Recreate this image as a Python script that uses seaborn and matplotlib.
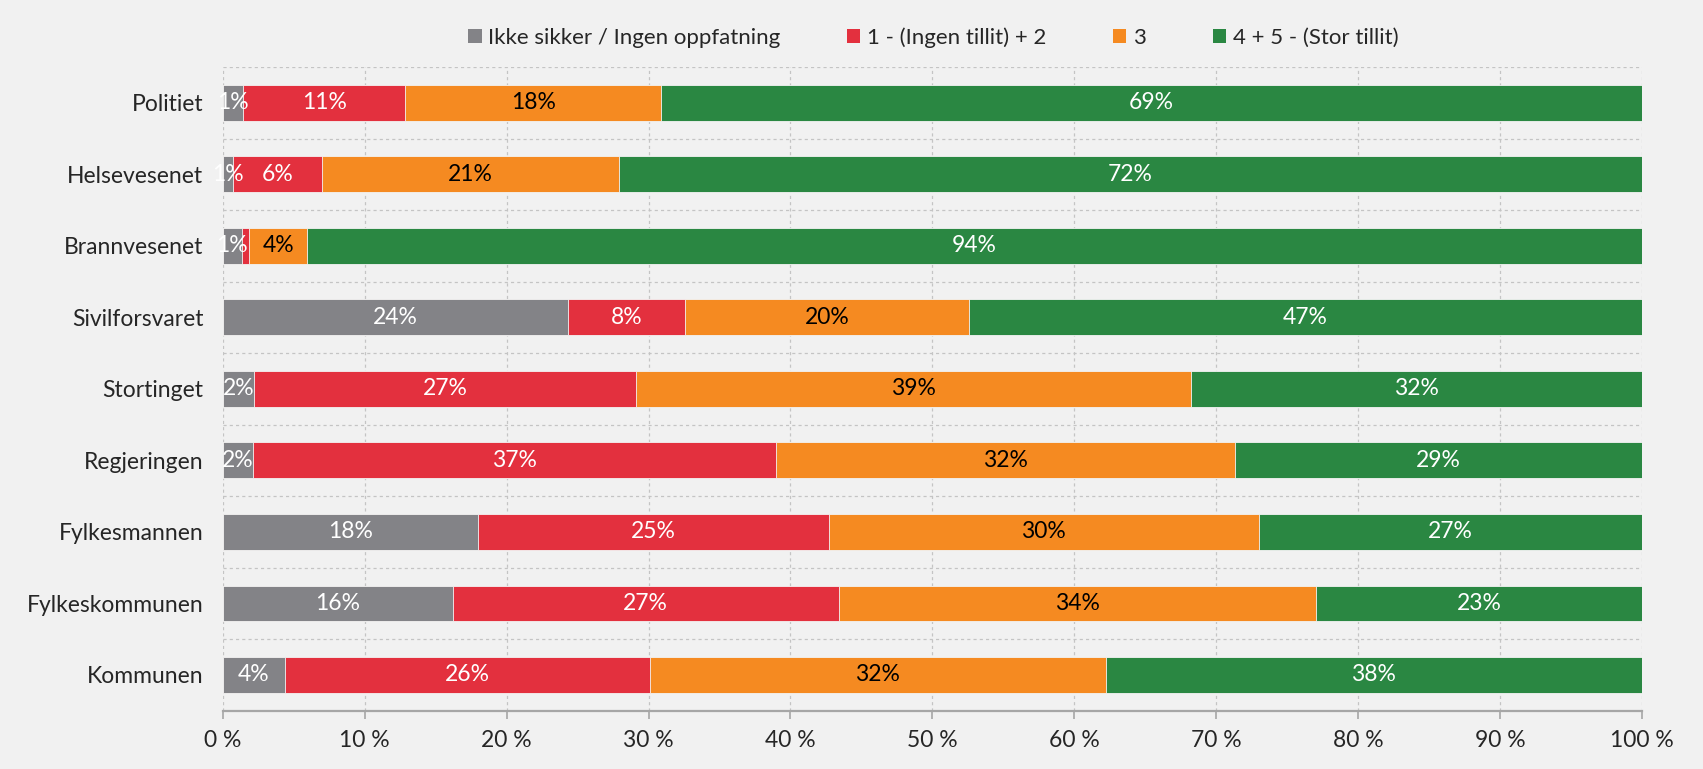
import matplotlib
matplotlib.use("Agg")
import numpy as np
import pandas as pd
import matplotlib.pyplot as plt
from matplotlib.patches import Patch
import seaborn as sns

# Data (percent of respondents)
categories = ["Politiet", "Helsevesenet", "Brannvesenet", "Sivilforsvaret", "Stortinget",
              "Regjeringen", "Fylkesmannen", "Fylkeskommunen", "Kommunen"]
ikke_sikker = [1.45, 0.7, 1.35, 24.3, 2.2, 2.1, 18.0, 16.2, 4.4]
lav_tillit = [11.4, 6.3, 0.5, 8.3, 26.9, 36.9, 24.7, 27.2, 25.7]
middels = [18.05, 20.9, 4.1, 20.0, 39.1, 32.3, 30.3, 33.6, 32.1]
hoy_tillit = [69.1, 72.1, 94.05, 47.4, 31.8, 28.7, 27.0, 23.0, 37.8]

series_names = ["Ikke sikker / Ingen oppfatning", "1 - (Ingen tillit) + 2", "3", "4 + 5 - (Stor tillit)"]
x_ticks = [0, 10, 20, 30, 40, 50, 60, 70, 80, 90, 100]

colors = ["#838387", "#e3303e", "#f58a21", "#2a8742"]
text_colors = ["white", "white", "black", "white"]
bg = "#f1f1f1"

sns.set_theme(style="white")
plt.rcParams["font.family"] = ["Lato", "DejaVu Sans"]

df = pd.DataFrame({
    "Kategori": categories,
    series_names[0]: ikke_sikker,
    series_names[1]: lav_tillit,
    series_names[2]: middels,
    series_names[3]: hoy_tillit,
})
values = df[series_names]
cum = values.cumsum(axis=1)

fig = plt.figure(figsize=(17.03, 7.69), dpi=100, facecolor=bg)
ax = fig.add_axes([0.1308, 0.0758, 0.8334, 0.8371], facecolor=bg)

# draw stacked bars: longest cumulative first, then overlay shorter ones
for i in range(len(series_names) - 1, -1, -1):
    sns.barplot(x=cum[series_names[i]], y=df["Kategori"], color=colors[i], orient="h",
                width=0.5, saturation=1, edgecolor="#f4f4f4", linewidth=0.6, ax=ax)

# segment labels
for i, name in enumerate(series_names):
    left = cum[name] - values[name]
    for j, v in enumerate(values[name]):
        if v < 0.6:
            continue
        ax.text(left.iloc[j] + v / 2, j, f"{round(v)}%", ha="center", va="center",
                color=text_colors[i], fontsize=16.5)

ax.set_xlim(0, 100)
ax.set_ylim(len(categories) - 0.5, -0.5)
ax.set_xticks(x_ticks)
ax.set_xticklabels([f"{t} %" for t in x_ticks], fontsize=16.5)
ax.set_yticks(range(len(categories)))
ax.set_yticklabels(categories, fontsize=16.5)
ax.set_xlabel("")
ax.set_ylabel("")

# grid
ax.set_yticks(np.arange(-0.5, len(categories), 1), minor=True)
ax.xaxis.grid(True, linestyle=(0, (2.5, 2.5)), color="#c4c4c4", linewidth=0.9)
ax.yaxis.grid(True, which="minor", linestyle=(0, (2.5, 2.5)), color="#c4c4c4", linewidth=0.9)
ax.yaxis.grid(False, which="major")
ax.set_axisbelow(True)

for s in ["top", "right", "left"]:
    ax.spines[s].set_visible(False)
ax.spines["bottom"].set_color("#a6a6a6")
ax.spines["bottom"].set_linewidth(1.6)

ax.tick_params(axis="x", which="major", direction="out", length=6, width=1.2,
               color="#a6a6a6", pad=8, bottom=True)
ax.tick_params(axis="y", which="both", length=0, pad=14)

handles = [Patch(facecolor=c, edgecolor="none") for c in colors]
fig.legend(handles, series_names, loc="center", bbox_to_anchor=(0.548, 0.951), ncol=4,
           frameon=False, fontsize=16, handlelength=0.6, handleheight=0.6,
           handletextpad=0.3, columnspacing=3.0)

fig.savefig("out.png", dpi=100, facecolor=bg)
